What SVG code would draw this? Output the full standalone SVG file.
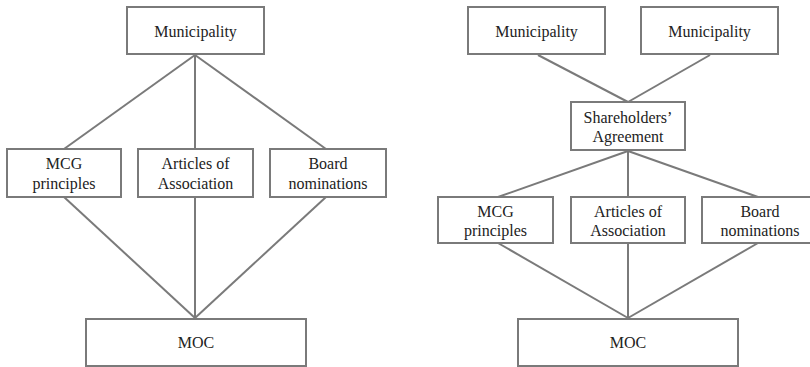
<svg xmlns="http://www.w3.org/2000/svg" width="810" height="367" viewBox="0 0 810 367">
<style>
.box{fill:#fff;stroke:#7a7a7a;stroke-width:2}
.ln{stroke:#7a7a7a;stroke-width:2;fill:none}
text{font-family:"Liberation Serif","Times New Roman",serif;font-size:16px;fill:#222;text-anchor:middle}
</style>
<rect width="810" height="367" fill="#fff"/>
<g id="connectors">
<line class="ln" x1="195" y1="55" x2="64" y2="149"/>
<line class="ln" x1="195" y1="55" x2="195" y2="149"/>
<line class="ln" x1="195" y1="55" x2="326" y2="149"/>
<line class="ln" x1="64" y1="197" x2="195" y2="318"/>
<line class="ln" x1="195" y1="197" x2="195" y2="318"/>
<line class="ln" x1="326" y1="197" x2="195" y2="318"/>
<line class="ln" x1="538" y1="55" x2="628" y2="102"/>
<line class="ln" x1="710" y1="55" x2="628" y2="102"/>
<line class="ln" x1="628" y1="151" x2="498" y2="197"/>
<line class="ln" x1="628" y1="151" x2="628" y2="197"/>
<line class="ln" x1="628" y1="151" x2="758" y2="197"/>
<line class="ln" x1="498" y1="243" x2="628" y2="318"/>
<line class="ln" x1="628" y1="243" x2="628" y2="318"/>
<line class="ln" x1="758" y1="243" x2="628" y2="318"/>
</g>
<g id="l-municipality"><rect class="box" x="127" y="7" width="137" height="47"/><text x="195.5" y="37">Municipality</text></g>
<g id="l-mcg"><rect class="box" x="7" y="149" width="114" height="48"/><text x="64" y="169">MCG</text><text x="64" y="189">principles</text></g>
<g id="l-articles"><rect class="box" x="138" y="149" width="115" height="48"/><text x="195.5" y="169">Articles of</text><text x="195.5" y="189">Association</text></g>
<g id="l-board"><rect class="box" x="270" y="149" width="116" height="48"/><text x="328" y="169">Board</text><text x="328" y="189">nominations</text></g>
<g id="l-moc"><rect class="box" x="86" y="319" width="220" height="47"/><text x="196" y="348">MOC</text></g>
<g id="r-municipality1"><rect class="box" x="468" y="7" width="137" height="47"/><text x="536.5" y="37">Municipality</text></g>
<g id="r-municipality2"><rect class="box" x="641" y="7" width="137" height="47"/><text x="709.5" y="37">Municipality</text></g>
<g id="r-shareholders"><rect class="box" x="571" y="102" width="114" height="48"/><text x="628" y="123">Shareholders’</text><text x="628" y="142">Agreement</text></g>
<g id="r-mcg"><rect class="box" x="438" y="197" width="115" height="46"/><text x="495.5" y="216.5">MCG</text><text x="495.5" y="235.5">principles</text></g>
<g id="r-articles"><rect class="box" x="571" y="197" width="114" height="46"/><text x="628" y="216.5">Articles of</text><text x="628" y="235.5">Association</text></g>
<g id="r-board"><rect class="box" x="702" y="197" width="110" height="46"/><text x="760" y="216.5">Board</text><text x="760" y="235.5">nominations</text></g>
<g id="r-moc"><rect class="box" x="518" y="319" width="220" height="47"/><text x="628" y="348">MOC</text></g>
</svg>
